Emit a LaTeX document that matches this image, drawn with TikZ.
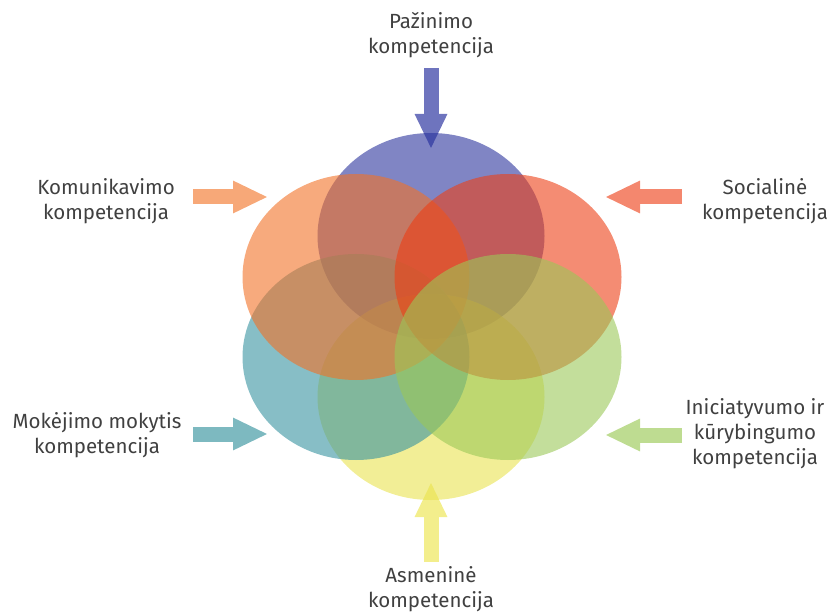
\documentclass[tikz,border=0pt]{standalone}
\usepackage{fontspec}
\setmainfont{Fira Sans}
\usetikzlibrary{arrows.meta,shapes.geometric}
\definecolor{cBlue}{RGB}{43,52,157}
\definecolor{cOrange}{RGB}{242,113,38}
\definecolor{cSalmon}{RGB}{237,63,21}
\definecolor{cTeal}{RGB}{55,147,160}
\definecolor{cGreen}{RGB}{155,200,88}
\definecolor{cYellow}{RGB}{233,227,80}
\definecolor{aBlue}{RGB}{110,116,190}
\definecolor{aOrange}{RGB}{247,168,120}
\definecolor{aSalmon}{RGB}{244,135,110}
\definecolor{aTeal}{RGB}{125,185,192}
\definecolor{aGreen}{RGB}{190,220,145}
\definecolor{aYellow}{RGB}{243,238,140}
\tikzset{lbl/.style={align=center, text=black!75, font=\fontsize{20.5}{25}\selectfont},
  ell/.style={ellipse, inner sep=0pt, minimum width=227pt, minimum height=206pt, fill opacity=0.6},
  blk/.style={line width=15pt, -{Triangle[width=30pt,length=35pt]}}}

\begin{document}
\begin{tikzpicture}[x=1pt, y=-1pt]

             \useasboundingbox (0,0) rectangle (827,612);

             \coordinate (pazS) at (431,68);
             \coordinate (pazT) at (431,149);
             \coordinate (komS) at (193,197);
             \coordinate (komT) at (268,197);
             \coordinate (socS) at (682,197);
             \coordinate (socT) at (605,197);
             \coordinate (mokS) at (193,434);
             \coordinate (mokT) at (268,434);
             \coordinate (iniS) at (682,435);
             \coordinate (iniT) at (605,435);
             \coordinate (asmS) at (431,562);
             \coordinate (asmT) at (431,482);

             \draw [blk, aBlue] (pazS) -- (pazT);
             \draw [blk, aOrange] (komS) -- (komT);
             \draw [blk, aSalmon] (socS) -- (socT);
             \draw [blk, aTeal] (mokS) -- (mokT);
             \draw [blk, aGreen] (iniS) -- (iniT);
             \draw [blk, aYellow] (asmS) -- (asmT);

             \node (Bl) [ell, fill=cBlue] at (431,236) {};
             \node (Ye) [ell, fill=cYellow] at (431,397) {};
             \node (Te) [ell, fill=cTeal] at (356,357) {};
             \node (Or) [ell, fill=cOrange] at (356,277) {};
             \node (Sa) [ell, fill=cSalmon] at (508,277) {};
             \node (Gr) [ell, fill=cGreen] at (508,357) {};

             \node (Paz) [lbl] at (431,35) {Pažinimo\\kompetencija};
             \node (Kom) [lbl] at (106,201) {Komunikavimo\\kompetencija};
             \node (Soc) [lbl] at (765,201) {Socialinė\\kompetencija};
             \node (Mok) [lbl] at (97,435) {Mokėjimo mokytis\\kompetencija};
             \node (Ini) [lbl] at (755,434) {Iniciatyvumo ir\\kūrybingumo\\kompetencija};
             \node (Asm) [lbl] at (431,589) {Asmeninė\\kompetencija};

\end{tikzpicture}
\end{document}
